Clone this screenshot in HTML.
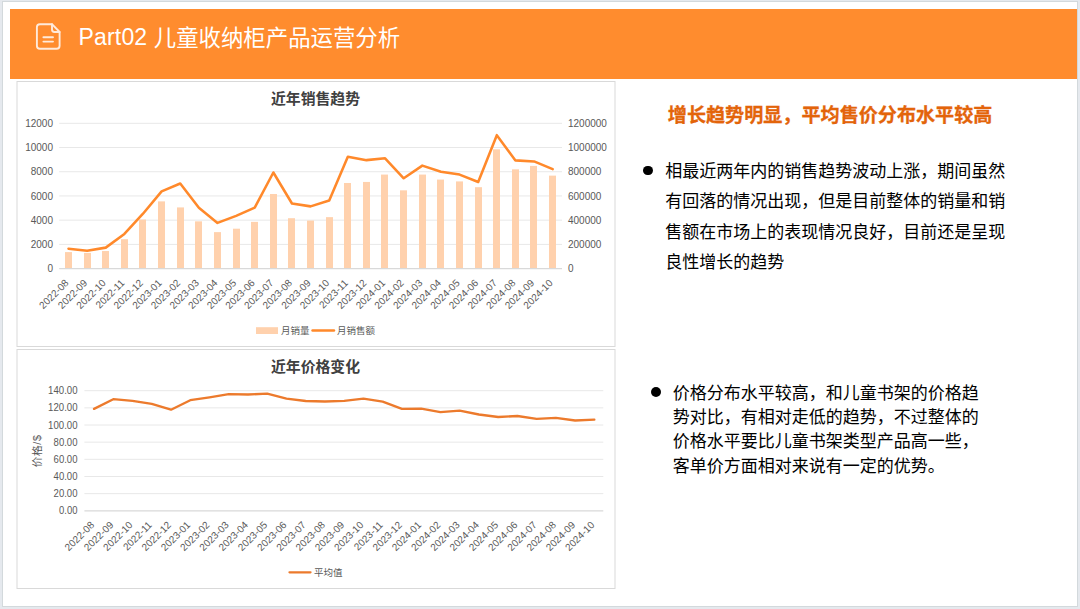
<!DOCTYPE html>
<html lang="zh-CN">
<head>
<meta charset="utf-8">
<title>Part02 儿童收纳柜产品运营分析</title>
<style>
html,body{margin:0;padding:0;}
body{width:1080px;height:609px;overflow:hidden;background:#e5e9ee;position:relative;
  font-family:"Liberation Sans","Noto Sans CJK SC",sans-serif;}
.slide{position:absolute;left:2.5px;top:1.5px;width:1074.5px;height:604px;background:#fff;
  box-shadow:0 0 0 1px #d3d9dc;}
.banner{position:absolute;left:10.2px;top:9.2px;width:1066.8px;height:70.1px;background:#ff8c2e;}
.lat{font-size:23px;letter-spacing:0.15px;position:relative;top:-0.7px;}
.title{position:absolute;left:78.6px;top:21.1px;height:34px;line-height:34px;font-size:22.4px;color:#fff;white-space:nowrap;}
.h2{position:absolute;left:667.8px;top:100.3px;height:32px;line-height:32px;font-size:19.1px;font-weight:bold;color:#e3640a;-webkit-text-stroke:0.3px #e3640a;white-space:nowrap;}
.p{position:absolute;font-size:17px;color:#000;white-space:nowrap;}
.p1{left:665.3px;top:156.8px;line-height:30.5px;}
.p2{left:672.8px;top:381.6px;line-height:24.38px;}
.dot{position:absolute;width:9.6px;height:9.6px;border-radius:50%;background:#000;}
</style>
</head>
<body>
<div class="slide"></div>
<div class="banner"></div>
<svg width="1080" height="609" viewBox="0 0 1080 609" style="position:absolute;left:0;top:0" font-family="'Liberation Sans', 'Noto Sans CJK SC', sans-serif">
<rect x="17" y="81.5" width="598" height="265" fill="#fff" stroke="#d9d9d9" stroke-width="1"/>
<rect x="17" y="349.5" width="598" height="239" fill="#fff" stroke="#d9d9d9" stroke-width="1"/>
<text x="53" y="272.20" font-size="10" fill="#595959" text-anchor="end">0</text>
<text x="568.0" y="272.20" font-size="10" fill="#595959">0</text>
<line x1="59.2" x2="562.0" y1="244.38" y2="244.38" stroke="#e8e8e8" stroke-width="1"/>
<text x="53" y="247.98" font-size="10" fill="#595959" text-anchor="end">2000</text>
<text x="568.0" y="247.98" font-size="10" fill="#595959">200000</text>
<line x1="59.2" x2="562.0" y1="220.17" y2="220.17" stroke="#e8e8e8" stroke-width="1"/>
<text x="53" y="223.77" font-size="10" fill="#595959" text-anchor="end">4000</text>
<text x="568.0" y="223.77" font-size="10" fill="#595959">400000</text>
<line x1="59.2" x2="562.0" y1="195.95" y2="195.95" stroke="#e8e8e8" stroke-width="1"/>
<text x="53" y="199.55" font-size="10" fill="#595959" text-anchor="end">6000</text>
<text x="568.0" y="199.55" font-size="10" fill="#595959">600000</text>
<line x1="59.2" x2="562.0" y1="171.73" y2="171.73" stroke="#e8e8e8" stroke-width="1"/>
<text x="53" y="175.33" font-size="10" fill="#595959" text-anchor="end">8000</text>
<text x="568.0" y="175.33" font-size="10" fill="#595959">800000</text>
<line x1="59.2" x2="562.0" y1="147.52" y2="147.52" stroke="#e8e8e8" stroke-width="1"/>
<text x="53" y="151.12" font-size="10" fill="#595959" text-anchor="end">10000</text>
<text x="568.0" y="151.12" font-size="10" fill="#595959">1000000</text>
<line x1="59.2" x2="562.0" y1="123.30" y2="123.30" stroke="#e8e8e8" stroke-width="1"/>
<text x="53" y="126.90" font-size="10" fill="#595959" text-anchor="end">12000</text>
<text x="568.0" y="126.90" font-size="10" fill="#595959">1200000</text>
<rect x="65" y="252.09" width="7" height="16.01" fill="#ffd1ad"/>
<rect x="84" y="252.88" width="7" height="15.22" fill="#ffd1ad"/>
<rect x="102" y="251.04" width="7" height="17.06" fill="#ffd1ad"/>
<rect x="121" y="239.21" width="7" height="28.89" fill="#ffd1ad"/>
<rect x="139" y="219.51" width="7" height="48.59" fill="#ffd1ad"/>
<rect x="158" y="201.38" width="7" height="66.72" fill="#ffd1ad"/>
<rect x="177" y="207.42" width="7" height="60.68" fill="#ffd1ad"/>
<rect x="195" y="221.35" width="7" height="46.75" fill="#ffd1ad"/>
<rect x="214" y="232.12" width="7" height="35.98" fill="#ffd1ad"/>
<rect x="233" y="228.70" width="7" height="39.40" fill="#ffd1ad"/>
<rect x="251" y="221.87" width="7" height="46.23" fill="#ffd1ad"/>
<rect x="270" y="194.02" width="7" height="74.08" fill="#ffd1ad"/>
<rect x="288" y="218.20" width="7" height="49.90" fill="#ffd1ad"/>
<rect x="307" y="220.56" width="7" height="47.54" fill="#ffd1ad"/>
<rect x="326" y="217.14" width="7" height="50.96" fill="#ffd1ad"/>
<rect x="344" y="182.99" width="7" height="85.11" fill="#ffd1ad"/>
<rect x="363" y="181.94" width="7" height="86.16" fill="#ffd1ad"/>
<rect x="381" y="174.58" width="7" height="93.52" fill="#ffd1ad"/>
<rect x="400" y="190.34" width="7" height="77.76" fill="#ffd1ad"/>
<rect x="419" y="174.58" width="7" height="93.52" fill="#ffd1ad"/>
<rect x="437" y="179.57" width="7" height="88.53" fill="#ffd1ad"/>
<rect x="456" y="181.41" width="7" height="86.69" fill="#ffd1ad"/>
<rect x="475" y="187.19" width="7" height="80.91" fill="#ffd1ad"/>
<rect x="493" y="149.36" width="7" height="118.74" fill="#ffd1ad"/>
<rect x="512" y="169.33" width="7" height="98.77" fill="#ffd1ad"/>
<rect x="530" y="165.91" width="7" height="102.19" fill="#ffd1ad"/>
<rect x="549" y="175.63" width="7" height="92.47" fill="#ffd1ad"/>
<line x1="59.2" x2="562.0" y1="268.60" y2="268.60" stroke="#d9d9d9" stroke-width="1.2"/>
<polyline points="68.51,248.67 87.13,250.78 105.76,247.62 124.38,233.96 143.00,213.73 161.62,191.40 180.24,183.51 198.87,207.69 217.49,222.92 236.11,215.83 254.73,207.69 273.36,172.48 291.98,203.48 310.60,206.37 329.22,200.59 347.84,156.71 366.47,160.13 385.09,158.29 403.71,178.26 422.33,165.65 440.96,171.69 459.58,174.58 478.20,181.94 496.82,135.17 515.44,160.39 534.07,161.44 552.69,169.06" fill="none" stroke="#ff892b" stroke-width="2.55" stroke-linejoin="round" stroke-linecap="round"/>
<text transform="translate(69.31,283.60) rotate(-45)" font-size="10" fill="#595959" text-anchor="end">2022-08</text>
<text transform="translate(87.93,283.60) rotate(-45)" font-size="10" fill="#595959" text-anchor="end">2022-09</text>
<text transform="translate(106.56,283.60) rotate(-45)" font-size="10" fill="#595959" text-anchor="end">2022-10</text>
<text transform="translate(125.18,283.60) rotate(-45)" font-size="10" fill="#595959" text-anchor="end">2022-11</text>
<text transform="translate(143.80,283.60) rotate(-45)" font-size="10" fill="#595959" text-anchor="end">2022-12</text>
<text transform="translate(162.42,283.60) rotate(-45)" font-size="10" fill="#595959" text-anchor="end">2023-01</text>
<text transform="translate(181.04,283.60) rotate(-45)" font-size="10" fill="#595959" text-anchor="end">2023-02</text>
<text transform="translate(199.67,283.60) rotate(-45)" font-size="10" fill="#595959" text-anchor="end">2023-03</text>
<text transform="translate(218.29,283.60) rotate(-45)" font-size="10" fill="#595959" text-anchor="end">2023-04</text>
<text transform="translate(236.91,283.60) rotate(-45)" font-size="10" fill="#595959" text-anchor="end">2023-05</text>
<text transform="translate(255.53,283.60) rotate(-45)" font-size="10" fill="#595959" text-anchor="end">2023-06</text>
<text transform="translate(274.16,283.60) rotate(-45)" font-size="10" fill="#595959" text-anchor="end">2023-07</text>
<text transform="translate(292.78,283.60) rotate(-45)" font-size="10" fill="#595959" text-anchor="end">2023-08</text>
<text transform="translate(311.40,283.60) rotate(-45)" font-size="10" fill="#595959" text-anchor="end">2023-09</text>
<text transform="translate(330.02,283.60) rotate(-45)" font-size="10" fill="#595959" text-anchor="end">2023-10</text>
<text transform="translate(348.64,283.60) rotate(-45)" font-size="10" fill="#595959" text-anchor="end">2023-11</text>
<text transform="translate(367.27,283.60) rotate(-45)" font-size="10" fill="#595959" text-anchor="end">2023-12</text>
<text transform="translate(385.89,283.60) rotate(-45)" font-size="10" fill="#595959" text-anchor="end">2024-01</text>
<text transform="translate(404.51,283.60) rotate(-45)" font-size="10" fill="#595959" text-anchor="end">2024-02</text>
<text transform="translate(423.13,283.60) rotate(-45)" font-size="10" fill="#595959" text-anchor="end">2024-03</text>
<text transform="translate(441.76,283.60) rotate(-45)" font-size="10" fill="#595959" text-anchor="end">2024-04</text>
<text transform="translate(460.38,283.60) rotate(-45)" font-size="10" fill="#595959" text-anchor="end">2024-05</text>
<text transform="translate(479.00,283.60) rotate(-45)" font-size="10" fill="#595959" text-anchor="end">2024-06</text>
<text transform="translate(497.62,283.60) rotate(-45)" font-size="10" fill="#595959" text-anchor="end">2024-07</text>
<text transform="translate(516.24,283.60) rotate(-45)" font-size="10" fill="#595959" text-anchor="end">2024-08</text>
<text transform="translate(534.87,283.60) rotate(-45)" font-size="10" fill="#595959" text-anchor="end">2024-09</text>
<text transform="translate(553.49,283.60) rotate(-45)" font-size="10" fill="#595959" text-anchor="end">2024-10</text>
<text x="315.5" y="104.4" font-size="14.85" font-weight="bold" fill="#404040" text-anchor="middle">近年销售趋势</text>
<rect x="256" y="327.2" width="22" height="6.8" fill="#ffd1ad"/>
<text x="281" y="334.3" font-size="9.5" fill="#595959">月销量</text>
<line x1="312.5" x2="334" y1="330.5" y2="330.5" stroke="#ff892b" stroke-width="2.4" stroke-linecap="round"/>
<text x="337" y="334.3" font-size="9.5" fill="#595959">月销售额</text>
<line x1="84.4" x2="603.3" y1="510.80" y2="510.80" stroke="#d9d9d9" stroke-width="1.2"/>
<text x="77.5" y="514.40" font-size="10" fill="#595959" text-anchor="end" textLength="18.4" lengthAdjust="spacingAndGlyphs">0.00</text>
<line x1="84.4" x2="603.3" y1="493.64" y2="493.64" stroke="#e8e8e8" stroke-width="1"/>
<text x="77.5" y="497.24" font-size="10" fill="#595959" text-anchor="end" textLength="23.9" lengthAdjust="spacingAndGlyphs">20.00</text>
<line x1="84.4" x2="603.3" y1="476.49" y2="476.49" stroke="#e8e8e8" stroke-width="1"/>
<text x="77.5" y="480.09" font-size="10" fill="#595959" text-anchor="end" textLength="23.9" lengthAdjust="spacingAndGlyphs">40.00</text>
<line x1="84.4" x2="603.3" y1="459.33" y2="459.33" stroke="#e8e8e8" stroke-width="1"/>
<text x="77.5" y="462.93" font-size="10" fill="#595959" text-anchor="end" textLength="23.9" lengthAdjust="spacingAndGlyphs">60.00</text>
<line x1="84.4" x2="603.3" y1="442.17" y2="442.17" stroke="#e8e8e8" stroke-width="1"/>
<text x="77.5" y="445.77" font-size="10" fill="#595959" text-anchor="end" textLength="23.9" lengthAdjust="spacingAndGlyphs">80.00</text>
<line x1="84.4" x2="603.3" y1="425.01" y2="425.01" stroke="#e8e8e8" stroke-width="1"/>
<text x="77.5" y="428.61" font-size="10" fill="#595959" text-anchor="end" textLength="29.4" lengthAdjust="spacingAndGlyphs">100.00</text>
<line x1="84.4" x2="603.3" y1="407.86" y2="407.86" stroke="#e8e8e8" stroke-width="1"/>
<text x="77.5" y="411.46" font-size="10" fill="#595959" text-anchor="end" textLength="29.4" lengthAdjust="spacingAndGlyphs">120.00</text>
<line x1="84.4" x2="603.3" y1="390.70" y2="390.70" stroke="#e8e8e8" stroke-width="1"/>
<text x="77.5" y="394.30" font-size="10" fill="#595959" text-anchor="end" textLength="29.4" lengthAdjust="spacingAndGlyphs">140.00</text>
<polyline points="94.02,408.90 113.27,399.20 132.51,400.80 151.76,403.90 171.00,409.70 190.24,400.20 209.49,397.30 228.73,394.20 247.98,394.50 267.22,393.70 286.47,398.70 305.71,401.00 324.96,401.50 344.20,400.80 363.44,398.70 382.69,401.60 401.93,408.90 421.18,408.70 440.42,412.20 459.67,410.60 478.91,414.50 498.16,417.00 517.40,416.00 536.64,418.90 555.89,417.80 575.13,420.50 594.38,419.70" fill="none" stroke="#ec7a2c" stroke-width="2.3" stroke-linejoin="round" stroke-linecap="round"/>
<text transform="translate(94.82,525.60) rotate(-45)" font-size="10" fill="#595959" text-anchor="end">2022-08</text>
<text transform="translate(114.07,525.60) rotate(-45)" font-size="10" fill="#595959" text-anchor="end">2022-09</text>
<text transform="translate(133.31,525.60) rotate(-45)" font-size="10" fill="#595959" text-anchor="end">2022-10</text>
<text transform="translate(152.56,525.60) rotate(-45)" font-size="10" fill="#595959" text-anchor="end">2022-11</text>
<text transform="translate(171.80,525.60) rotate(-45)" font-size="10" fill="#595959" text-anchor="end">2022-12</text>
<text transform="translate(191.04,525.60) rotate(-45)" font-size="10" fill="#595959" text-anchor="end">2023-01</text>
<text transform="translate(210.29,525.60) rotate(-45)" font-size="10" fill="#595959" text-anchor="end">2023-02</text>
<text transform="translate(229.53,525.60) rotate(-45)" font-size="10" fill="#595959" text-anchor="end">2023-03</text>
<text transform="translate(248.78,525.60) rotate(-45)" font-size="10" fill="#595959" text-anchor="end">2023-04</text>
<text transform="translate(268.02,525.60) rotate(-45)" font-size="10" fill="#595959" text-anchor="end">2023-05</text>
<text transform="translate(287.27,525.60) rotate(-45)" font-size="10" fill="#595959" text-anchor="end">2023-06</text>
<text transform="translate(306.51,525.60) rotate(-45)" font-size="10" fill="#595959" text-anchor="end">2023-07</text>
<text transform="translate(325.76,525.60) rotate(-45)" font-size="10" fill="#595959" text-anchor="end">2023-08</text>
<text transform="translate(345.00,525.60) rotate(-45)" font-size="10" fill="#595959" text-anchor="end">2023-09</text>
<text transform="translate(364.24,525.60) rotate(-45)" font-size="10" fill="#595959" text-anchor="end">2023-10</text>
<text transform="translate(383.49,525.60) rotate(-45)" font-size="10" fill="#595959" text-anchor="end">2023-11</text>
<text transform="translate(402.73,525.60) rotate(-45)" font-size="10" fill="#595959" text-anchor="end">2023-12</text>
<text transform="translate(421.98,525.60) rotate(-45)" font-size="10" fill="#595959" text-anchor="end">2024-01</text>
<text transform="translate(441.22,525.60) rotate(-45)" font-size="10" fill="#595959" text-anchor="end">2024-02</text>
<text transform="translate(460.47,525.60) rotate(-45)" font-size="10" fill="#595959" text-anchor="end">2024-03</text>
<text transform="translate(479.71,525.60) rotate(-45)" font-size="10" fill="#595959" text-anchor="end">2024-04</text>
<text transform="translate(498.96,525.60) rotate(-45)" font-size="10" fill="#595959" text-anchor="end">2024-05</text>
<text transform="translate(518.20,525.60) rotate(-45)" font-size="10" fill="#595959" text-anchor="end">2024-06</text>
<text transform="translate(537.44,525.60) rotate(-45)" font-size="10" fill="#595959" text-anchor="end">2024-07</text>
<text transform="translate(556.69,525.60) rotate(-45)" font-size="10" fill="#595959" text-anchor="end">2024-08</text>
<text transform="translate(575.93,525.60) rotate(-45)" font-size="10" fill="#595959" text-anchor="end">2024-09</text>
<text transform="translate(595.18,525.60) rotate(-45)" font-size="10" fill="#595959" text-anchor="end">2024-10</text>
<text x="315.5" y="371.9" font-size="14.85" font-weight="bold" fill="#404040" text-anchor="middle">近年价格变化</text>
<text transform="translate(40.6,450.9) rotate(-90)" font-size="10.7" letter-spacing="0.6" fill="#595959" text-anchor="middle">价格/$</text>
<line x1="289.5" x2="310.5" y1="572.3" y2="572.3" stroke="#ec7a2c" stroke-width="2.3" stroke-linecap="round"/>
<text x="314" y="576.2" font-size="9.5" fill="#595959">平均值</text>
<g fill="none" stroke="#ffeadb" stroke-width="1.9" stroke-linejoin="round" stroke-linecap="round"><path d="M39.9 24.2 H52 L59.6 32 V45.8 a3 3 0 0 1 -3 3 H39.9 a3 3 0 0 1 -3 -3 V27.2 a3 3 0 0 1 3 -3 Z"/><path d="M52 24.2 V29.6 a2.4 2.4 0 0 0 2.4 2.4 H59.6"/><path d="M43.4 37.3 H53 M43.4 41.6 H53"/></g>
</svg>
<div class="title"><span class="lat">Part02 </span>儿童收纳柜产品运营分析</div>
<div class="h2">增长趋势明显，平均售价分布水平较高</div>
<div class="dot" style="left:643.2px;top:165.8px"></div>
<div class="p p1">相最近两年内的销售趋势波动上涨，期间虽然<br>有回落的情况出现，但是目前整体的销量和销<br>售额在市场上的表现情况良好，目前还是呈现<br>良性增长的趋势</div>
<div class="dot" style="left:650.8px;top:387px;width:10px;height:10px"></div>
<div class="p p2">价格分布水平较高，和儿童书架的价格趋<br>势对比，有相对走低的趋势，不过整体的<br>价格水平要比儿童书架类型产品高一些，<br>客单价方面相对来说有一定的优势。</div>
</body>
</html>
